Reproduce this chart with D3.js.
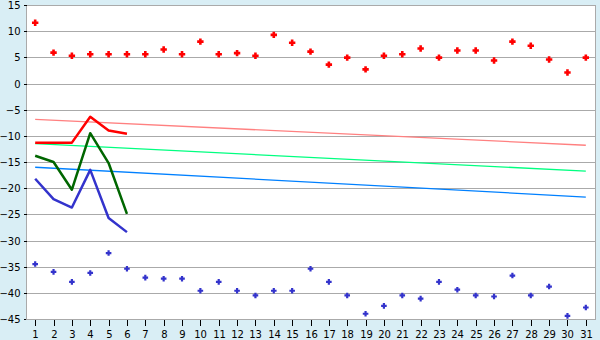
<!DOCTYPE html>
<html><head><meta charset="utf-8">
<script src="https://cdn.jsdelivr.net/npm/d3@7"></script>
<style>body{margin:0;background:#d9eef5;}svg{display:block;}</style>
</head><body>
<svg id="c" width="600" height="340"></svg>
<script>
const days = [1,2,3,4,5,6,7,8,9,10,11,12,13,14,15,16,17,18,19,20,21,22,23,24,25,26,27,28,29,30,31];
const yTicks = [-45,-40,-35,-30,-25,-20,-15,-10,-5,0,5,10,15];
const maxPoints = [11.6,5.9,5.3,5.6,5.6,5.6,5.6,6.5,5.6,8.0,5.6,5.8,5.3,9.3,7.8,6.1,3.6,4.95,2.7,5.3,5.6,6.7,4.95,6.3,6.3,4.4,8.0,7.2,4.6,2.1,4.95];
const minPoints = [-34.5,-36.0,-37.9,-36.2,-32.4,-35.4,-37.1,-37.3,-37.3,-39.6,-37.9,-39.6,-40.5,-39.6,-39.6,-35.4,-37.9,-40.5,-44.0,-42.5,-40.5,-41.1,-37.9,-39.4,-40.5,-40.7,-36.7,-40.5,-38.8,-44.4,-42.8];
const redLine = [-11.3,-11.3,-11.3,-6.35,-9.0,-9.6];
const greenLine = [-13.8,-15.0,-20.3,-9.5,-15.2,-24.9];
const blueLine = [-18.2,-22.1,-23.7,-16.5,-25.7,-28.4];
const trendDays = [1,31];
const redTrend = [-6.85,-11.8];
const greenTrend = [-11.5,-16.75];
const blueTrend = [-16.0,-21.7];

const svg = d3.select("#c");
const L=26, R=595, T=5, B=319;
const x = d3.scaleBand().domain(days).range([L,R]);
const cx = d => x(d) + x.bandwidth()/2;
const y = d3.scaleLinear().domain([-45,15]).range([B,T]);

svg.append("rect").attr("x",0).attr("y",0).attr("width",600).attr("height",340).attr("fill","#d9eef5");
svg.append("rect").attr("x",L).attr("y",T).attr("width",R-L).attr("height",B-T).attr("fill","#ffffff");

// gridlines
svg.append("g").selectAll("line").data(yTicks).join("line")
  .attr("x1",L).attr("x2",R)
  .attr("y1",d=>Math.round(y(d))+0.5).attr("y2",d=>Math.round(y(d))+0.5)
  .attr("stroke","#aaaaaa").attr("stroke-width",1).attr("shape-rendering","crispEdges");
// right border
svg.append("line").attr("x1",R+0.5).attr("x2",R+0.5).attr("y1",T).attr("y2",B+1)
  .attr("stroke","#aaaaaa").attr("shape-rendering","crispEdges");

// y axis
const ya = svg.append("g").attr("transform",`translate(${L+0.5},0.5)`)
  .call(d3.axisLeft(y).tickValues(yTicks).tickSize(3).tickPadding(3));
ya.select(".domain").attr("stroke","#aaaaaa").attr("d",`M0,${T}V${B}`);
ya.selectAll(".tick line").attr("stroke","#000");
ya.selectAll("text").attr("font-family","DejaVu Sans").attr("font-size",10).attr("fill","#000");
ya.attr("shape-rendering","crispEdges");
ya.selectAll(".tick").attr("transform",d=>`translate(0,${Math.round(y(d))})`);

// x axis
const xa = svg.append("g").attr("transform",`translate(0,${B+0.5})`)
  .call(d3.axisBottom(x).tickSize(6).tickPadding(5));
xa.select(".domain").attr("stroke","#aaaaaa").attr("d",`M${L},0H${R}`);
xa.selectAll(".tick line").attr("stroke","#000");
xa.selectAll("text").attr("font-family","DejaVu Sans").attr("font-size",10).attr("fill","#000");
xa.attr("shape-rendering","crispEdges");
xa.selectAll(".tick").attr("transform",d=>`translate(${Math.round(cx(d))+0.5},0)`);

// trend lines
const tline = d3.line().x((v,i)=>cx(trendDays[i])).y(v=>y(v));
[[redTrend,"#ff8080"],[greenTrend,"#00ff80"],[blueTrend,"#0080ff"]].forEach(([d,c])=>{
  svg.append("path").attr("d",tline(d)).attr("fill","none").attr("stroke",c).attr("stroke-width",1.3);
});

// thick lines
const line = d3.line().x((v,i)=>cx(days[i])).y(v=>y(v));
[[redLine,"#ff0000"],[greenLine,"#006600"],[blueLine,"#3333cc"]].forEach(([d,c])=>{
  svg.append("path").attr("d",line(d)).attr("fill","none").attr("stroke",c).attr("stroke-width",2.5).attr("stroke-linejoin","round");
});

// markers: fat plus
const fatPlus = (a, w) => ({draw(ctx){
  ctx.moveTo(-w,-a); ctx.lineTo(w,-a); ctx.lineTo(w,-w); ctx.lineTo(a,-w); ctx.lineTo(a,w);
  ctx.lineTo(w,w); ctx.lineTo(w,a); ctx.lineTo(-w,a); ctx.lineTo(-w,w); ctx.lineTo(-a,w);
  ctx.lineTo(-a,-w); ctx.lineTo(-w,-w); ctx.closePath();
}});
svg.append("g").selectAll("path").data(maxPoints).join("path")
  .attr("d",d3.symbol().type(fatPlus(3.2,1.3))()).attr("fill","#ff0000")
  .attr("transform",(v,i)=>`translate(${cx(days[i])},${y(v)})`);
svg.append("g").selectAll("path").data(minPoints).join("path")
  .attr("d",d3.symbol().type(fatPlus(2.8,1.1))()).attr("fill","#3333cc")
  .attr("transform",(v,i)=>`translate(${cx(days[i])},${y(v)})`);
</script>
</body></html>
